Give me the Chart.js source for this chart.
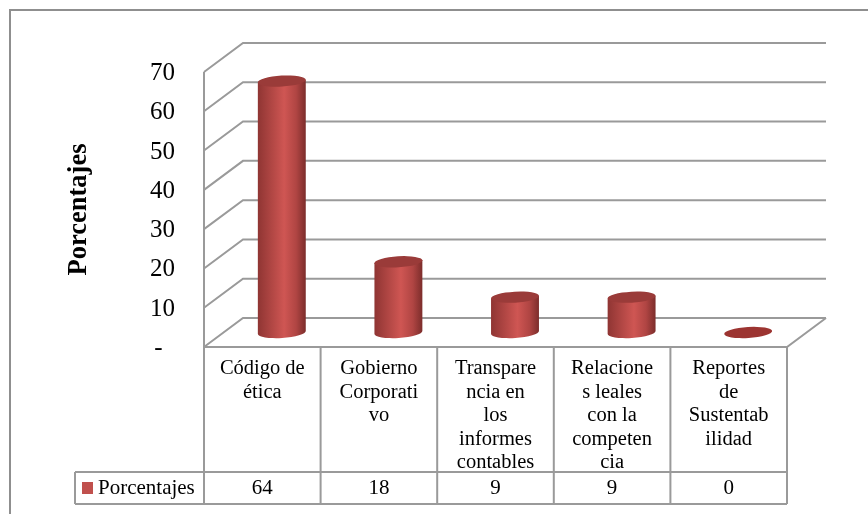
<!DOCTYPE html>
<html><head><meta charset="utf-8">
<style>html,body{margin:0;padding:0;background:#fff}canvas{display:block}</style>
<script src="https://cdn.jsdelivr.net/npm/chart.js@4"></script>
</head><body><canvas id="c" width="868" height="514"></canvas>
<script>
const categories = [['Código de','ética'],['Gobierno','Corporati','vo'],['Transpare','ncia en','los','informes','contables'],['Relacione','s leales','con la','competen','cia'],['Reportes','de','Sustentab','ilidad']];
const seriesName = 'Porcentajes';
const values = [64, 18, 9, 9, 0];
const tickValues = [0,10,20,30,40,50,60,70];

const FONT = '"Liberation Serif", serif';
const GRID = '#9a9a9a';
const DEPTH_X = 39, DEPTH_Y = 29;

class CylinderBar extends Chart.BarElement {
  static id = 'cylinderBar';
  draw(ctx) {
    const {x, y, base, width} = this.getProps(['x','y','base','width']);
    const cx = x + DEPTH_X / 2, top = y - DEPTH_Y / 2, bot = base - DEPTH_Y / 2;
    const rx = width / 2, ry = 5.5, tilt = -0.06;
    const ex = rx * Math.cos(tilt), ey = rx * Math.sin(tilt);
    ctx.save();
    if (bot - top < 1) {
      ctx.fillStyle = '#9c3431';
      ctx.beginPath(); ctx.ellipse(cx, bot, rx, ry, tilt, 0, Math.PI * 2); ctx.fill();
      ctx.restore(); return;
    }
    const g = ctx.createLinearGradient(cx - rx, 0, cx + rx, 0);
    g.addColorStop(0, '#8f3533'); g.addColorStop(0.55, '#cf5653'); g.addColorStop(0.8, '#b04543'); g.addColorStop(1, '#7c2d2b');
    ctx.fillStyle = g;
    ctx.beginPath();
    ctx.ellipse(cx, bot, rx, ry, tilt, Math.PI, 0, true);
    ctx.lineTo(cx + ex, top + ey);
    ctx.lineTo(cx - ex, top - ey);
    ctx.closePath(); ctx.fill();
    ctx.fillStyle = '#9a3b39';
    ctx.beginPath(); ctx.ellipse(cx, top, rx, ry, tilt, 0, Math.PI * 2); ctx.fill();
    ctx.restore();
  }
}
class CylinderController extends Chart.BarController {
  static id = 'cylinder';
  static defaults = { dataElementType: 'cylinderBar' };
}
Chart.register(CylinderBar, CylinderController);

const scene = {
  id: 'scene',
  beforeDraw(chart) {
    const {ctx, scales:{x:xs, y:ys}, chartArea:a} = chart;
    ctx.save();
    ctx.strokeStyle = '#8f8f8f'; ctx.lineWidth = 2;
    ctx.beginPath(); ctx.moveTo(10, 514); ctx.lineTo(10, 10); ctx.lineTo(868, 10); ctx.stroke();
    ctx.strokeStyle = GRID; ctx.lineWidth = 2;
    ctx.beginPath();
    ctx.moveTo(a.left, a.top); ctx.lineTo(a.left, a.bottom);
    tickValues.forEach(v => {
      const p = ys.getPixelForValue(v);
      ctx.moveTo(a.left, p); ctx.lineTo(a.left + DEPTH_X, p - DEPTH_Y); ctx.lineTo(a.right + DEPTH_X, p - DEPTH_Y);
    });
    ctx.moveTo(a.left, a.bottom); ctx.lineTo(a.right, a.bottom); ctx.lineTo(a.right + DEPTH_X, a.bottom - DEPTH_Y);
    ctx.stroke();
    const rowTop = 472, rowBot = 504, legendLeft = 75;
    const step = (a.right - a.left) / values.length;
    ctx.beginPath();
    for (let i = 0; i <= values.length; i++) {
      const lx = a.left + step * i;
      ctx.moveTo(lx, a.bottom); ctx.lineTo(lx, rowBot);
    }
    ctx.moveTo(legendLeft, rowTop); ctx.lineTo(a.right, rowTop);
    ctx.moveTo(legendLeft, rowBot); ctx.lineTo(a.right, rowBot);
    ctx.moveTo(legendLeft, rowTop); ctx.lineTo(legendLeft, rowBot);
    ctx.stroke();
    ctx.fillStyle = '#c0504d'; ctx.fillRect(82, 482, 11, 12);
    ctx.fillStyle = '#000'; ctx.font = '21px ' + FONT; ctx.textBaseline = 'middle';
    ctx.textAlign = 'left'; ctx.fillText(seriesName, 98, 488);
    ctx.textAlign = 'center';
    values.forEach((v, i) => ctx.fillText(String(v), xs.getPixelForValue(i), 488));
    ctx.restore();
  }
};

new Chart(document.getElementById('c'), {
  type: 'cylinder',
  data: { labels: categories, datasets: [{ label: seriesName, data: values, backgroundColor: '#c0504d', barThickness: 48 }] },
  options: {
    responsive: false, animation: false, devicePixelRatio: 1,
    layout: { padding: { top: 72, right: 81, left: 63, bottom: 0 } },
    plugins: { legend: { display: false }, tooltip: { enabled: false } },
    scales: {
      x: {
        type: 'category', offset: true,
        grid: { display: false }, border: { display: false },
        afterFit(s) { s.height = 514 - 347; },
        ticks: { maxRotation: 0, autoSkip: false, padding: 2, color: '#000',
                 font: { family: FONT, size: 20.5, lineHeight: 1.15 } }
      },
      y: {
        type: 'linear', min: 0, max: 70,
        grid: { display: false }, border: { display: false },
        afterFit(s) { s.width = 141; },
        afterBuildTicks(s) { s.ticks = tickValues.map(v => ({ value: v })); },
        ticks: { padding: 21, labelOffset: 1.5, color: '#000', font: { family: FONT, size: 25 },
                 callback: v => v === 0 ? '-\u00a0\u00a0' : String(v) },
        title: { display: true, text: seriesName, color: '#000', padding: 0,
                 font: { family: FONT, size: 26.5, weight: 'bold' } }
      }
    }
  },
  plugins: [scene]
});
</script></body></html>
